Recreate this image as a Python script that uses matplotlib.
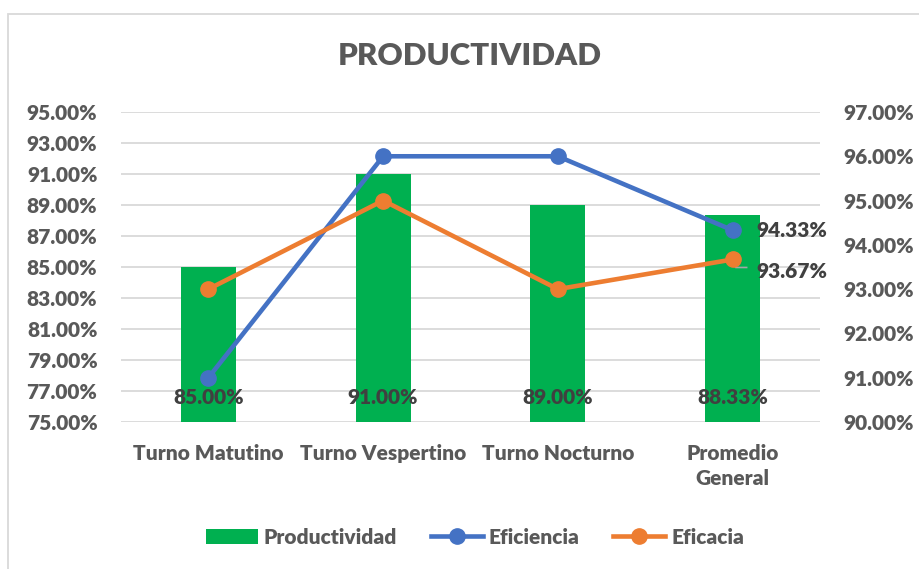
import numpy as np
import matplotlib
matplotlib.use("Agg")
import matplotlib.pyplot as plt
import matplotlib.transforms as mtransforms
from matplotlib.patches import Rectangle
from matplotlib.lines import Line2D
from matplotlib.ticker import FuncFormatter

categories = ["Turno Matutino", "Turno Vespertino", "Turno Nocturno", "Promedio\nGeneral"]
productividad = [85.00, 91.00, 89.00, 88.33]
eficiencia = [91.00, 96.00, 96.00, 94.33]
eficacia = [93.00, 95.00, 93.00, 93.67]

GREEN = "#00B050"
BLUE = "#4472C4"
ORANGE = "#ED7D31"
TXT = "#595959"
LBL = "#404040"
GRID = "#D9D9D9"
WEIGHT = "heavy"

plt.rcParams["font.family"] = ["Lato", "DejaVu Sans"]
plt.rcParams["font.weight"] = WEIGHT

W, H = 919, 569
fig = plt.figure(figsize=(W / 100, H / 100), dpi=100)
fig.patch.set_facecolor("white")

ax = fig.add_axes([121 / W, 1 - 422 / H, (820 - 121) / W, (422 - 112) / H])
x = np.arange(len(categories))

ax.bar(x, productividad, width=0.314, color=GREEN, zorder=2, label="Productividad")
ax.set_xlim(-0.5, len(categories) - 0.5)
ax.set_ylim(75, 95)
ax.set_yticks(np.arange(75, 95.01, 2))
ax.yaxis.set_major_formatter(FuncFormatter(lambda v, p: f"{v:.2f}%"))
ax.yaxis.grid(True, color=GRID, lw=1.3)
ax.set_axisbelow(True)
for s in ax.spines.values():
    s.set_visible(False)
ax.tick_params(axis="y", length=0, pad=17, labelsize=15, labelcolor=TXT)
ax.set_xticks(x)
ax.set_xticklabels(categories, linespacing=1.35)
ax.tick_params(axis="x", length=0, pad=16, labelsize=15, labelcolor=TXT)
for t in ax.get_xticklabels() + ax.get_yticklabels():
    t.set_fontweight(WEIGHT)

for i, v in enumerate(productividad):
    ax.annotate(f"{v:.2f}%", xy=(x[i], 75), xytext=(0, 25), textcoords="offset pixels",
                ha="center", va="center", fontsize=15, fontweight=WEIGHT, color=LBL, zorder=5)

ax2 = ax.twinx()
ax2.plot(x, eficiencia, color=BLUE, lw=3.3, marker="o", ms=11, label="Eficiencia", zorder=3)
ax2.plot(x, eficacia, color=ORANGE, lw=3.3, marker="o", ms=11, label="Eficacia", zorder=3)
ax2.set_ylim(90, 97)
ax2.set_yticks(np.arange(90, 97.01, 1))
ax2.yaxis.set_major_formatter(FuncFormatter(lambda v, p: f"{v:.2f}%"))
for s in ax2.spines.values():
    s.set_visible(False)
ax2.tick_params(axis="y", length=0, pad=16.5, labelsize=15, labelcolor=TXT)
for t in ax2.get_yticklabels():
    t.set_fontweight(WEIGHT)

last = len(categories) - 1
ax2.annotate(f"{eficiencia[last]:.2f}%", xy=(x[last], eficiencia[last]), xytext=(24, 0),
             textcoords="offset pixels", ha="left", va="center", fontsize=15,
             fontweight=WEIGHT, color=LBL)
ax2.annotate(f"{eficacia[last]:.2f}%", xy=(x[last], eficacia[last]), xytext=(24, -12),
             textcoords="offset pixels", ha="left", va="center", fontsize=15,
             fontweight=WEIGHT, color=LBL)
trans = fig.dpi_scale_trans + mtransforms.ScaledTranslation(x[last], eficacia[last], ax2.transData)
ax2.add_line(Line2D([0.0, 0.03, 0.14], [0.0, -0.08, -0.08], transform=trans,
                    color="#A6A6A6", lw=1.2, zorder=2))

fig.text(470 / W, 1 - 56 / H, "PRODUCTIVIDAD", ha="center", va="center",
         fontsize=22.5, fontweight=WEIGHT, color=TXT)

h1, l1 = ax.get_legend_handles_labels()
h2, l2 = ax2.get_legend_handles_labels()
leg = fig.legend(h1 + h2, l1 + l2, loc="center", bbox_to_anchor=(475 / W, 1 - 537 / H),
                 ncol=3, frameon=False, handlelength=2.5, handletextpad=0.3,
                 columnspacing=1.6, borderpad=0, prop={"weight": WEIGHT, "size": 15})
for t in leg.get_texts():
    t.set_color(TXT)

fig.patches.append(Rectangle((8 / W, -0.1), 1.0, 1 - 14 / H + 0.1, transform=fig.transFigure,
                             fill=False, ec=GRID, lw=1.3))

fig.savefig("out.png", dpi=100)
